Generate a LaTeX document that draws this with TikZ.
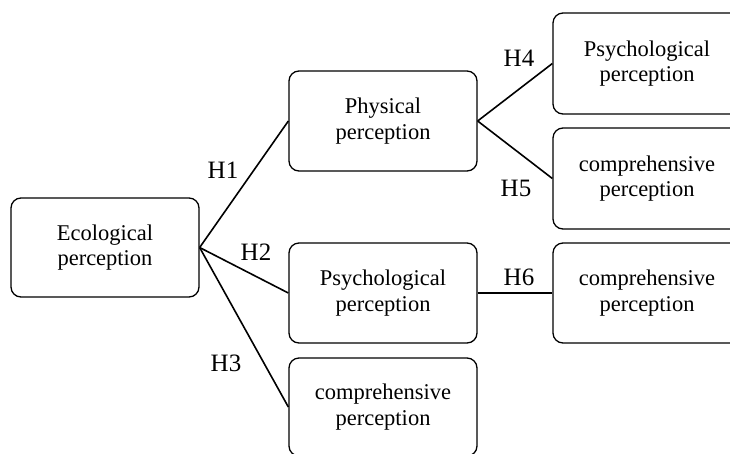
\documentclass[tikz,border=0pt]{standalone}
\usepackage{fontspec}
\setmainfont{Liberation Serif}
\begin{document}
\begin{tikzpicture}[x=1pt,y=-1pt,
  box/.style={draw=black, line width=1.3pt, rounded corners=10pt, minimum width=188pt, minimum height=100pt, align=center, inner sep=0pt, font=\fontsize{22.5}{25.5}\selectfont},
  lab/.style={inner sep=0pt, font=\fontsize{25}{28}\selectfont},
  link/.style={draw=black, line width=1.6pt}]
\useasboundingbox (0,0) rectangle (730,453);
\clip (0,0) rectangle (730,453);
\node[box, minimum height=99pt] (eco) at (105,247.5) {Ecological\\perception};
\node[box] (phys) at (383,121) {Physical\\perception};
\node[box] (psy) at (383,293) {Psychological\\perception};
\node[box, minimum height=98pt] (comp) at (383,407) {comprehensive\\perception};
\node[box, minimum height=101pt] (r1) at (647,63.5) {Psychological\\perception};
\node[box, minimum height=101pt] (r2) at (647,178.5) {comprehensive\\perception};
\node[box] (r3) at (647,293) {comprehensive\\perception};
\draw[link] (eco.east) -- (phys.west);
\draw[link] (eco.east) -- (psy.west);
\draw[link] (eco.east) -- (comp.west);
\draw[link] (phys.east) -- (r1.west);
\draw[link] (phys.east) -- (r2.west);
\draw[link] (psy.east) -- (r3.west);
\node[lab] (h1) at (223,170) {H1};
\node[lab] (h2) at (256,252) {H2};
\node[lab] (h3) at (226,363) {H3};
\node[lab] (h4) at (519,58) {H4};
\node[lab] (h5) at (516,188) {H5};
\node[lab] (h6) at (519,277) {H6};
\end{tikzpicture}
\end{document}
